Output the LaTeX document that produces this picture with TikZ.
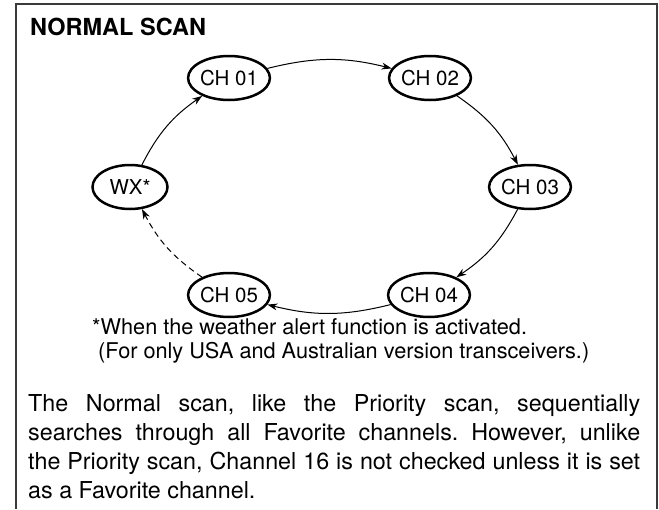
\documentclass[tikz,border=0pt]{standalone}
\usepackage{fontspec}
\setmainfont{TeX Gyre Heros}
\usepackage{xcolor}
\usepackage{tikz}
\usetikzlibrary{shapes.geometric,arrows.meta}
\definecolor{ink}{HTML}{000000}
\definecolor{rule}{HTML}{3A3A3A}
\frenchspacing
\tikzset{
  frameLine/.style={draw=rule, line width=2pt},
  chan/.style={ellipse, draw=ink, line width=2.5pt, minimum width=75pt, minimum height=44pt, inner sep=0pt, font=\fontsize{20.5}{24}\selectfont},
  flow/.style={draw=ink, line width=1pt, -{Stealth[length=10pt,width=7pt]}},
  flowDash/.style={flow, dash pattern=on 6pt off 4pt},
  titleLbl/.style={font=\fontsize{23.5}{28}\selectfont\bfseries, inner sep=0pt},
  noteLbl/.style={font=\fontsize{21.7}{26}\selectfont, inner sep=0pt},
  bodyTxt/.style={font=\fontsize{23.3}{29}\selectfont, text width=612pt, align=justify, inner sep=0pt},
}

\begin{document}
\begin{tikzpicture}[x=1pt,y=-1pt]
  \useasboundingbox (0,0) rectangle (659,509);
  \draw[frameLine] (16,509) -- (16,4) -- (657,4) -- (657,509);

  \node[titleLbl, anchor=west] (title) at (30,26.5) {NORMAL SCAN};

  \node[chan] (ch01) at (229,78)  {CH 01};
  \node[chan] (ch02) at (430,78)  {CH 02};
  \node[chan] (ch03) at (530,187) {CH 03};
  \node[chan] (ch04) at (429,295) {CH 04};
  \node[chan] (ch05) at (229,295) {CH 05};
  \node[chan] (wx)   at (130,187) {WX*};

  \draw[flow] (ch01) to[bend left=14] (ch02);
  \draw[flow] (ch02) to[bend left=14] (ch03);
  \draw[flow] (ch03) to[bend left=14] (ch04);
  \draw[flow] (ch04) to[bend left=14] (ch05);
  \draw[flowDash] (ch05) to[bend left=14] (wx);
  \draw[flow] (wx) to[bend left=14] (ch01);

  \node[noteLbl, anchor=base west] (note1) at (92,334) {*When the weather alert function is activated.};
  \node[noteLbl, anchor=base west] (note2) at (98,358) {(For only USA and Australian version transceivers.)};

  \node[bodyTxt, anchor=north west] (body) at (28,394) {The Normal scan, like the Priority scan, sequentially\linebreak
    searches through all Favorite channels. However, unlike\linebreak
    the Priority scan, Channel 16 is not checked unless it is set\linebreak
    as a Favorite channel.};
\end{tikzpicture}
\end{document}
